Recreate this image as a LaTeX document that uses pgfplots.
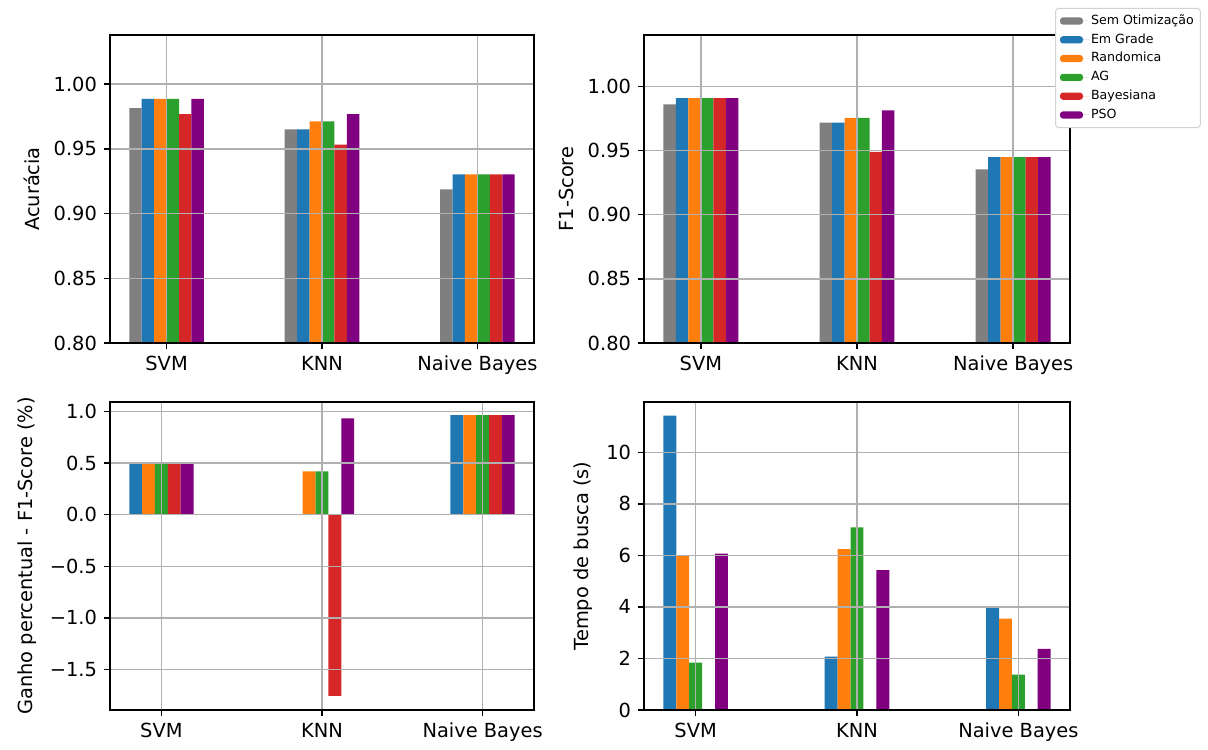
\documentclass[border=0pt]{standalone}
\usepackage{pgfplots}
\pgfplotsset{compat=1.18}
\usepackage{fontspec}
\setmainfont{DejaVu Sans}
\definecolor{tabgray}{HTML}{7F7F7F}
\definecolor{tabblue}{HTML}{1F77B4}
\definecolor{taborange}{HTML}{FF7F0E}
\definecolor{tabgreen}{HTML}{2CA02C}
\definecolor{tabred}{HTML}{D62728}
\definecolor{tabpurple}{HTML}{800080}
\definecolor{gridgray}{HTML}{B0B0B0}
\pgfplotsset{
  myax/.style={
    scale only axis, anchor=south west,
    height=154pt,
    ybar, bar width=0.08,
    axis on top,
    xmajorgrids, ymajorgrids,
    grid style={gridgray, line width=0.7pt},
    axis line style={line width=0.7pt},
    every tick/.style={black, line width=0.7pt},
    major tick length=3pt, tick align=outside, tick pos=left,
    xtick={0,1,2}, xticklabels={SVM,KNN,Naive Bayes},
    tick label style={font=\fontsize{9.7}{11}\selectfont},
    label style={font=\fontsize{9.7}{11}\selectfont},
    enlargelimits=false,
  },
  lg/.style={legend image code/.code={\draw[##1, draw=none] (0pt,-1.8pt) rectangle (11.5pt,1.8pt); \path (0pt,0pt) -- (14.5pt,0pt);}},
  bgray/.style={fill=tabgray, draw=none},
  bblue/.style={fill=tabblue, draw=none},
  borange/.style={fill=taborange, draw=none},
  bgreen/.style={fill=tabgreen, draw=none},
  bred/.style={fill=tabred, draw=none},
  bpurple/.style={fill=tabpurple, draw=none},
}
\begin{document}
\begin{tikzpicture}
\path[use as bounding box] (0,0) rectangle (604pt,374.5pt);
% Top-left: Acuracia
\begin{axis}[myax, at={(55pt,203pt)}, width=212pt,
  xmin=-0.364, xmax=2.364, ymin=0.80, ymax=1.038,
  ytick={0.80,0.85,0.90,0.95,1.00},
  yticklabels={0.80,0.85,0.90,0.95,1.00},
  ylabel={Acurácia}]
\addplot[bgray, bar shift=-0.20] coordinates {(0,0.9815) (1,0.9651) (2,0.9187)};
\addplot[bblue, bar shift=-0.12] coordinates {(0,0.9887) (1,0.9651) (2,0.9303)};
\addplot[borange, bar shift=-0.04] coordinates {(0,0.9887) (1,0.9713) (2,0.9303)};
\addplot[bgreen, bar shift=0.04] coordinates {(0,0.9887) (1,0.9713) (2,0.9303)};
\addplot[bred, bar shift=0.12] coordinates {(0,0.9769) (1,0.9533) (2,0.9303)};
\addplot[bpurple, bar shift=0.20] coordinates {(0,0.9887) (1,0.9769) (2,0.9303)};
\end{axis}
% Top-right: F1-Score
\begin{axis}[myax, at={(322pt,203pt)}, width=213pt,
  xmin=-0.364, xmax=2.364, ymin=0.80, ymax=1.040,
  ytick={0.80,0.85,0.90,0.95,1.00},
  yticklabels={0.80,0.85,0.90,0.95,1.00},
  ylabel={F1-Score},
  legend cell align=left,
  legend style={at={(rel axis cs:0.965,1.088)}, anchor=north west,
    font=\fontsize{6.3}{7}\selectfont, draw=gray!35, line width=0.5pt,
    rounded corners=1.5pt, fill=white, row sep=1.2pt, inner sep=2.2pt,
    nodes={inner sep=1pt, text height=4.8pt, text depth=1.4pt}}]
\addplot[bgray, lg, bar shift=-0.20] coordinates {(0,0.9860) (1,0.9718) (2,0.9352)};
\addplot[bblue, lg, bar shift=-0.12] coordinates {(0,0.9909) (1,0.9718) (2,0.9448)};
\addplot[borange, lg, bar shift=-0.04] coordinates {(0,0.9909) (1,0.9754) (2,0.9448)};
\addplot[bgreen, lg, bar shift=0.04] coordinates {(0,0.9909) (1,0.9754) (2,0.9448)};
\addplot[bred, lg, bar shift=0.12] coordinates {(0,0.9909) (1,0.9490) (2,0.9448)};
\addplot[bpurple, lg, bar shift=0.20] coordinates {(0,0.9909) (1,0.9813) (2,0.9448)};
\legend{Sem Otimização, Em Grade, Randomica, AG, Bayesiana, PSO}
\end{axis}
% Bottom-left: Ganho percentual
\begin{axis}[myax, at={(55pt,19.5pt)}, width=212pt,
  xmin=-0.32, xmax=2.32, ymin=-1.892, ymax=1.091,
  ytick={-1.5,-1.0,-0.5,0.0,0.5,1.0},
  yticklabels={−1.5,−1.0,−0.5,0.0,0.5,1.0},
  ylabel={Ganho percentual - F1-Score (\%)}]
\addplot[bblue, bar shift=-0.16] coordinates {(0,0.494) (1,0) (2,0.964)};
\addplot[borange, bar shift=-0.08] coordinates {(0,0.494) (1,0.419) (2,0.964)};
\addplot[bgreen, bar shift=0] coordinates {(0,0.494) (1,0.419) (2,0.964)};
\addplot[bred, bar shift=0.08] coordinates {(0,0.494) (1,-1.756) (2,0.964)};
\addplot[bpurple, bar shift=0.16] coordinates {(0,0.494) (1,0.932) (2,0.964)};
\end{axis}
% Bottom-right: Tempo de busca
\begin{axis}[myax, at={(322pt,19.5pt)}, width=213pt,
  xmin=-0.32, xmax=2.32, ymin=0, ymax=11.95,
  ytick={0,2,4,6,8,10},
  yticklabels={0,2,4,6,8,10},
  ylabel={Tempo de busca (s)}]
\addplot[bblue, bar shift=-0.16] coordinates {(0,11.42) (1,2.07) (2,3.96)};
\addplot[borange, bar shift=-0.08] coordinates {(0,6.00) (1,6.24) (2,3.55)};
\addplot[bgreen, bar shift=0] coordinates {(0,1.84) (1,7.09) (2,1.37)};
\addplot[bred, bar shift=0.08] coordinates {(0,0) (1,0) (2,0)};
\addplot[bpurple, bar shift=0.16] coordinates {(0,6.07) (1,5.43) (2,2.37)};
\end{axis}
\end{tikzpicture}
\end{document}
